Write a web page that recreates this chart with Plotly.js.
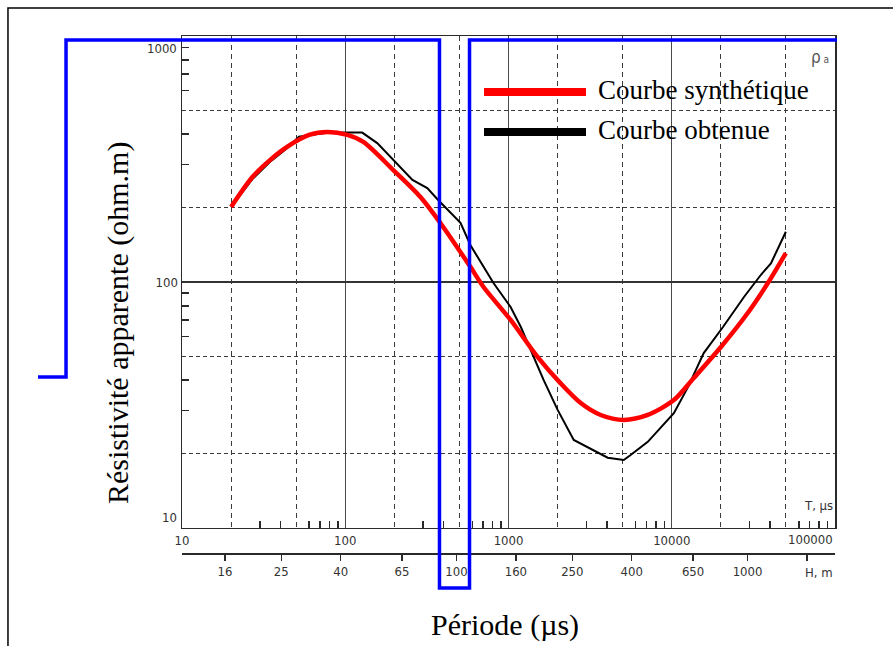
<!DOCTYPE html>
<html><head><meta charset="utf-8">
<script src="https://cdn.plot.ly/plotly-3.0.1.min.js"></script>
<style>html,body{margin:0;padding:0;background:#fff;}#chart{width:893px;height:646px;}</style>
</head><body><div id="chart"></div>
<script>
// ---- data ----
const periodRed = [20, 27, 35, 44, 60, 78, 103, 129, 197, 288, 399, 585, 703, 1030, 1510, 2080, 2770, 3670, 5080, 7130, 10300, 13650, 20000, 29200, 38800, 50000];
const rhoRed    = [202, 267, 315, 354, 396, 407, 396, 371, 285, 222, 167, 115, 95.4, 70.1, 49.5, 38.8, 32.2, 28.8, 27.5, 28.8, 33.1, 40.7, 54.4, 74.8, 99, 131];

const periodBlack = [20, 27, 35, 44, 52, 77.6, 97.2, 127, 157, 197, 258, 318, 372, 508, 585, 809, 1030, 1190, 1365, 1640, 2000, 2510, 4050, 5080, 5600, 7130, 10300, 12500, 15700, 20600, 27700, 35200, 40500, 46700, 50000];
const rhoBlack    = [202, 262, 310, 350, 390, 404, 405, 405, 367, 313, 260, 241, 215, 174, 141, 99, 79.1, 65.6, 52.9, 40.0, 30.2, 22.8, 19.3, 18.9, 19.8, 22.4, 29.3, 37.1, 51.4, 65.6, 86.9, 107, 119, 144, 160];

const seriesNames = ['Courbe synthétique', 'Courbe obtenue'];

const decadeTicksX  = [10, 100, 1000, 10000, 100000];
const decadeLabelsX = ['10', '100', '1000', '10000', ''];
const dashedTicksX  = [20, 50, 200, 500, 2000, 5000, 20000, 50000];
const minorTicksX   = [30, 40, 60, 70, 80, 90, 300, 400, 600, 700, 800, 900, 3000, 4000, 6000, 7000, 8000, 9000, 30000, 40000, 60000, 70000, 80000, 90000];

const decadeTicksY  = [10, 100, 1000];
const decadeLabelsY = ['', '100', ''];
const dashedTicksY  = [20, 50, 200, 500];
const minorTicksY   = [30, 40, 60, 70, 80, 90, 300, 400, 600, 700, 800, 900];

const depthTicks  = [16, 25, 40, 65, 100, 160, 250, 400, 650, 1000, 1600];
const depthLabels = ['16', '25', '40', '65', '100', '160', '250', '400', '650', '1000', ''];

// ---- styling ----
const narrow = '"Liberation Sans Narrow","DejaVu Sans Condensed","Arial Narrow",sans-serif';
const serif = '"Liberation Serif","Times New Roman",serif';
const tickFont = {family: narrow, size: 13, color: '#333333'};

const traces = [
  {x: periodBlack, y: rhoBlack, mode: 'lines', name: seriesNames[1],
   line: {color: '#000000', width: 2}, hoverinfo: 'x+y'},
  {x: periodRed, y: rhoRed, mode: 'lines', name: seriesNames[0],
   line: {color: '#ff0000', width: 4.5, shape: 'spline', smoothing: 0.8}, hoverinfo: 'x+y'},
  {x: [], y: [], xaxis: 'x2', yaxis: 'y2', mode: 'lines', showlegend: false, hoverinfo: 'skip'},
  {x: [], y: [], xaxis: 'x3', yaxis: 'y', mode: 'lines', showlegend: false, hoverinfo: 'skip'}
];

const layout = {
  width: 893, height: 646,
  margin: {l: 182, r: 58, t: 36, b: 46},
  paper_bgcolor: '#ffffff', plot_bgcolor: '#ffffff',
  showlegend: false,
  xaxis: {
    type: 'log', range: [1, 5], domain: [0, 1], anchor: 'y',
    tickmode: 'array', tickvals: decadeTicksX, ticktext: decadeLabelsX,
    ticks: '', showgrid: true, gridcolor: '#4a4a4a', gridwidth: 1,
    showline: true, linecolor: '#2a2a2a', linewidth: 1.5, mirror: true,
    zeroline: false, tickfont: tickFont,
    minor: {tickmode: 'array', tickvals: minorTicksX, ticks: 'inside', ticklen: 7, tickwidth: 1.5, tickcolor: '#2a2a2a', showgrid: false}
  },
  xaxis2: {
    type: 'log', range: [1, 5], overlaying: 'x', anchor: 'y',
    tickmode: 'array', tickvals: dashedTicksX, showticklabels: false, ticks: '',
    showgrid: true, gridcolor: '#3a3a3a', gridwidth: 1, griddash: '5px,4px',
    showline: false, zeroline: false
  },
  xaxis3: {
    type: 'log', range: [1.0567, 3.3007], overlaying: 'x', anchor: 'free', position: 0.0833, side: 'bottom',
    tickmode: 'array', tickvals: depthTicks, ticktext: depthLabels,
    ticks: 'outside', ticklen: 6, tickwidth: 1.5, tickcolor: '#2a2a2a',
    showline: true, linecolor: '#2a2a2a', linewidth: 1.5, showgrid: false, zeroline: false,
    tickfont: tickFont
  },
  yaxis: {
    type: 'log', range: [1, 3], domain: [0.1277, 1], anchor: 'x',
    tickmode: 'array', tickvals: decadeTicksY, ticktext: decadeLabelsY,
    ticks: '', showgrid: true, gridcolor: '#333333', gridwidth: 1.2,
    showline: true, linecolor: '#2a2a2a', linewidth: 1.5, mirror: true,
    zeroline: false, tickfont: tickFont,
    minor: {tickmode: 'array', tickvals: minorTicksY, ticks: 'inside', ticklen: 7, tickwidth: 1.5, tickcolor: '#2a2a2a', showgrid: false}
  },
  yaxis2: {
    type: 'log', range: [1, 3], overlaying: 'y', anchor: 'x',
    tickmode: 'array', tickvals: dashedTicksY, showticklabels: false, ticks: '',
    showgrid: true, gridcolor: '#3a3a3a', gridwidth: 1, griddash: '4px,3px',
    showline: false, zeroline: false
  },
  shapes: [
    // outer frame (top and left)
    {type: 'path', xref: 'paper', yref: 'paper', path: 'M 1.0888,1.0496 L -0.2665,1.0496 L -0.2665,-0.0816',
     line: {color: '#000000', width: 1.5}, fillcolor: 'rgba(0,0,0,0)'},
    // blue highlight outline
    {type: 'path', xref: 'paper', yref: 'paper',
     path: 'M -0.2205,0.3954 L -0.1776,0.3954 L -0.1776,0.9929 L 0.3943,0.9929 L 0.3943,0.0213 L 0.4403,0.0213 L 0.4403,0.9929 L 1.0031,0.9929',
     line: {color: '#0000ff', width: 3.5}, fillcolor: 'rgba(0,0,0,0)'},
    // legend samples
    {type: 'line', xref: 'paper', yref: 'paper', x0: 0.4625, x1: 0.6187, y0: 0.9007, y1: 0.9007,
     line: {color: '#ff0000', width: 8}},
    {type: 'line', xref: 'paper', yref: 'paper', x0: 0.4625, x1: 0.6187, y0: 0.8298, y1: 0.8298,
     line: {color: '#000000', width: 8}}
  ],
  annotations: [
    {text: seriesNames[0], xref: 'paper', yref: 'paper', x: 0.634, y: 0.9043, xanchor: 'left', yanchor: 'middle',
     showarrow: false, font: {family: serif, size: 27, color: '#000'}},
    {text: seriesNames[1], xref: 'paper', yref: 'paper', x: 0.634, y: 0.8333, xanchor: 'left', yanchor: 'middle',
     showarrow: false, font: {family: serif, size: 27, color: '#000'}},
    {text: 'Résistivité apparente (ohm.m)', xref: 'paper', yref: 'paper', x: -0.098, y: 0.4911, textangle: -90,
     xanchor: 'center', yanchor: 'middle', showarrow: false, font: {family: serif, size: 30, color: '#000'}},
    {text: 'Période (µs)', xref: 'paper', yref: 'paper', x: 0.4946, y: -0.0443,
     xanchor: 'center', yanchor: 'middle', showarrow: false, font: {family: serif, size: 30, color: '#000'}},
    {text: '1000', xref: 'paper', yref: 'paper', x: -0.004, y: 0.977, xanchor: 'right', yanchor: 'middle',
     showarrow: false, font: tickFont},
    {text: '10', xref: 'paper', yref: 'paper', x: -0.004, y: 0.147, xanchor: 'right', yanchor: 'middle',
     showarrow: false, font: tickFont},
    {text: '100000', xref: 'paper', yref: 'paper', x: 1, y: 0.1064, xanchor: 'right', yanchor: 'middle',
     showarrow: false, font: tickFont},
    {text: 'T, µs', xref: 'paper', yref: 'paper', x: 1, y: 0.1684, xanchor: 'right', yanchor: 'middle',
     showarrow: false, font: tickFont},
    {text: 'H, m', xref: 'paper', yref: 'paper', x: 1, y: 0.0479, xanchor: 'right', yanchor: 'middle',
     showarrow: false, font: tickFont},
    {text: 'ρ<span style="font-size:10px"> a</span>', xref: 'paper', yref: 'paper', x: 0.994, y: 0.9628,
     xanchor: 'right', yanchor: 'middle', showarrow: false, font: {family: narrow, size: 17, color: '#555'}}
  ]
};

Plotly.newPlot('chart', traces, layout, {staticPlot: true, displayModeBar: false});
</script>
</body></html>
